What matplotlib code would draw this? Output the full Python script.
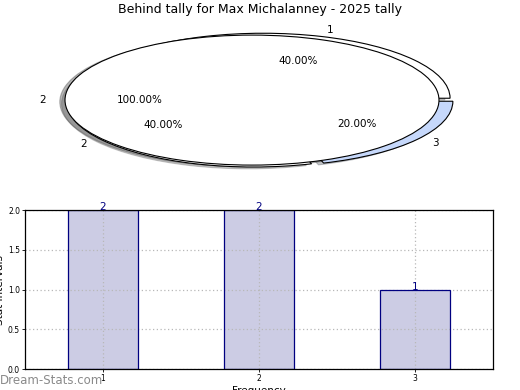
import matplotlib
matplotlib.use("Agg")
import matplotlib.pyplot as plt

# data
pie_labels = ['1', '2', '3']
pie_values = [2, 2, 1]
total_label = ['2']
total_value = [2]
bar_categories = [1, 2, 3]
bar_values = [2, 2, 1]
title = "Behind tally for Max Michalanney - 2025 tally"

fig = plt.figure(figsize=(5.2, 3.9), dpi=100)
fig.patch.set_facecolor('white')

# ---- pie axes ----
axp = fig.add_axes([0.0351, 0.535, 0.899, 0.4167])
w1, t1, a1 = axp.pie(pie_values, labels=pie_labels, explode=[0.03, 0.05, 0.03],
                     colors=['white', 'white', '#c6d8fb'], autopct='%.2f%%',
                     shadow={'alpha': 0.3}, startangle=0, center=(0.05, 0),
                     wedgeprops=dict(edgecolor='black', linewidth=0.8),
                     textprops=dict(fontsize=7.5))
w2, t2, a2 = axp.pie(total_value, labels=total_label, colors=['white'],
                     autopct='%.2f%%', shadow={'alpha': 0.4},
                     wedgeprops=dict(edgecolor='black', linewidth=0.8),
                     textprops=dict(fontsize=7.5))
axp.set_aspect('auto')
axp.set_xlim(-1.25, 1.25)
axp.set_ylim(-1.25, 1.25)
axp.axis('off')
fig.text(0.5, 0.975, title, ha='center', va='center', fontsize=9)

# ---- bar axes ----
ax = fig.add_axes([0.048, 0.0538, 0.9, 0.4077])
ax.bar(bar_categories, bar_values, width=0.45, color='#ccccE4',
       edgecolor='none', zorder=1)
ax.bar(bar_categories, bar_values, width=0.45, facecolor='none',
       edgecolor='#000080', linewidth=0.9, zorder=2)
for x, v in zip(bar_categories, bar_values):
    ax.text(x, v, str(v), ha='center', va='baseline', color='#000080',
            fontsize=7.5, zorder=4)
ax.set_xlim(0.5, 3.5)
ax.set_ylim(0, 2.0)
ax.set_xticks(bar_categories)
ax.set_yticks([0.0, 0.5, 1.0, 1.5, 2.0])
ax.set_yticklabels(['0.0', '0.5', '1.0', '1.5', '2.0'])
ax.tick_params(labelsize=5.5, length=2, width=0.6, direction='out', pad=1.5,
               top=False, right=False)
ax.set_axisbelow('line')
ax.grid(True, linestyle=(0, (1, 2)), color='#b8b8b8', linewidth=0.9)
for s in ax.spines.values():
    s.set_linewidth(0.9)
    s.set_zorder(3)
ax.set_ylabel('Stat Intervals', fontsize=7.5, labelpad=2)
ax.set_xlabel('Frequency', fontsize=7.5, labelpad=2)

fig.text(0.0, 0.025, 'Dream-Stats.com', ha='left', va='center', fontsize=8.5,
         color='#8a8a8a')

fig.savefig('out.png', dpi=100)
